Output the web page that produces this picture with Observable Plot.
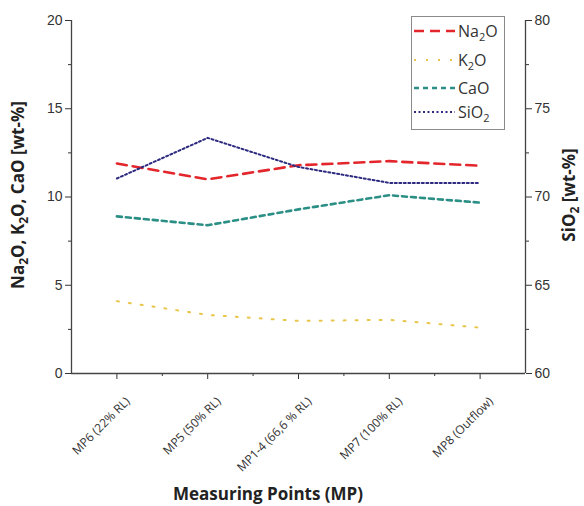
<!DOCTYPE html>
<html>
<head>
<meta charset="utf-8">
<script src="https://cdn.jsdelivr.net/npm/d3@7"></script>
<script src="https://cdn.jsdelivr.net/npm/@observablehq/plot@0.6"></script>
<style>
  html, body { margin: 0; padding: 0; background: white; }
  #wrap { position: relative; width: 584px; height: 506px; }
  #legend { position: absolute; left: 411px; top: 16px; width: 94px; height: 114px;
    border: 1px solid #8a8a8a; box-sizing: border-box; background: white;
    font-family: "Open Sans", sans-serif; font-size: 16px; color: #333; }
  .row { position: absolute; left: 0; height: 20px; display: flex; align-items: center; white-space: nowrap; }
  .row svg { margin-left: 1px; }
  .row span { margin-left: 3px; }
  sub { font-size: 11px; vertical-align: -4px; line-height: 0; }
</style>
</head>
<body>
<div id="wrap"></div>
<script>
const categories = ["MP6 (22% RL)", "MP5 (50% RL)", "MP1-4 (66,6 % RL)", "MP7 (100% RL)", "MP8 (Outflow)"];
const na2o = [11.9, 11.0, 11.8, 12.03, 11.77];
const k2o  = [4.1, 3.32, 2.98, 3.04, 2.6];
const cao  = [8.9, 8.4, 9.3, 10.1, 9.68];
const sio2 = [71.05, 73.35, 71.7, 70.8, 70.8];
const leftTicks = [0, 5, 10, 15, 20];
const rightTicks = [60, 65, 70, 75, 80];
const seriesNames = ["Na2O", "K2O", "CaO", "SiO2"];
const seriesHtml = ["Na<sub>2</sub>O", "K<sub>2</sub>O", "CaO", "SiO<sub>2</sub>"];
const seriesColors = ["#e3262b", "#e9c54a", "#2b8f86", "#2d2a80"];
const seriesDash = ["10,6", "2,10", "5,4", "2,2.5"];
const seriesWidth = [2.6, 2, 2.6, 2];
const rightOffset = 60;

const idx = categories.map((_, i) => i);
const rows = idx.map(i => ({i, cat: categories[i], Na2O: na2o[i], K2O: k2o[i], CaO: cao[i], SiO2: sio2[i]}));
const minorY = [2.5, 7.5, 12.5, 17.5];
const minorX = [0.5, 1.5, 2.5, 3.5];

const lineMarks = seriesNames.map((s, k) => Plot.lineY(rows, {
  x: "i",
  y: s === "SiO2" ? d => d[s] - rightOffset : s,
  stroke: seriesColors[k],
  strokeWidth: seriesWidth[k],
  strokeDasharray: seriesDash[k]
}));

const chart = Plot.plot({
  width: 584, height: 506,
  marginLeft: 71, marginRight: 59, marginTop: 20, marginBottom: 133,
  x: {type: "linear", domain: [-0.5, 4.5]},
  y: {domain: [0, 20]},
  style: {fontFamily: "'Liberation Sans', Arial, sans-serif", fontSize: "14px", color: "#333", background: "white"},
  marks: [
    Plot.axisY({ticks: leftTicks, tickSize: 6, tickPadding: 3, label: null}),
    Plot.axisY({ticks: minorY, tickSize: 3, tickFormat: () => "", label: null}),
    Plot.axisY({anchor: "right", ticks: rightTicks.map(v => v - rightOffset), tickFormat: d => d + rightOffset, tickSize: 6, tickPadding: 3, label: null}),
    Plot.axisY({anchor: "right", ticks: minorY, tickSize: 3, tickFormat: () => "", label: null}),
    Plot.axisX({ticks: idx, tickSize: 6, tickFormat: () => "", label: null}),
    Plot.axisX({ticks: idx, tickFormat: i => categories[i], tickRotate: -45, tickSize: 0, label: null,
      fontSize: 12, fontFamily: "'Open Sans', sans-serif", dx: 11, dy: 14}),
    Plot.axisX({ticks: minorX, tickSize: 3, tickFormat: () => "", label: null}),
    Plot.ruleX([-0.5, 4.5], {stroke: "#444", strokeWidth: 1.3}),
    Plot.ruleY([0], {stroke: "#444", strokeWidth: 1.3}),
    ...lineMarks
  ]
});

const wrap = document.getElementById("wrap");
wrap.appendChild(chart);

// Axis titles (with subscripts)
const svg = d3.select(chart);
function addTitle(x, y, rot, parts) {
  const t = svg.append("text")
    .attr("transform", `translate(${x},${y}) rotate(${rot})`)
    .attr("text-anchor", "middle")
    .attr("font-family", "'Open Sans', sans-serif")
    .attr("font-weight", "bold")
    .attr("font-size", 17)
    .attr("fill", "#222");
  let shifted = false;
  parts.forEach(p => {
    const ts = t.append("tspan").text(p.t);
    if (p.sub) { ts.attr("dy", 4).attr("font-size", 12); shifted = true; }
    else if (shifted) { ts.attr("dy", -4); shifted = false; }
  });
}
addTitle(24, 195, -90, [{t: "Na"}, {t: "2", sub: true}, {t: "O, K"}, {t: "2", sub: true}, {t: "O, CaO [wt-%]"}]);
addTitle(575, 195, -90, [{t: "SiO"}, {t: "2", sub: true}, {t: " [wt-%]"}]);
addTitle(268, 500, 0, [{t: "Measuring Points (MP)"}]);

// Legend
const legend = document.createElement("div");
legend.id = "legend";
const rowCenters = [31, 60, 88, 112];
seriesNames.forEach((s, k) => {
  const r = document.createElement("div");
  r.className = "row";
  r.style.top = (rowCenters[k] - 16 - 1 - 10) + "px";
  r.innerHTML = `<svg width="42" height="10"><line x1="1" x2="42" y1="5" y2="5" stroke="${seriesColors[k]}" stroke-width="${seriesWidth[k]}" stroke-dasharray="${seriesDash[k]}"/></svg><span>${seriesHtml[k]}</span>`;
  legend.appendChild(r);
});
wrap.appendChild(legend);
</script>
</body>
</html>
